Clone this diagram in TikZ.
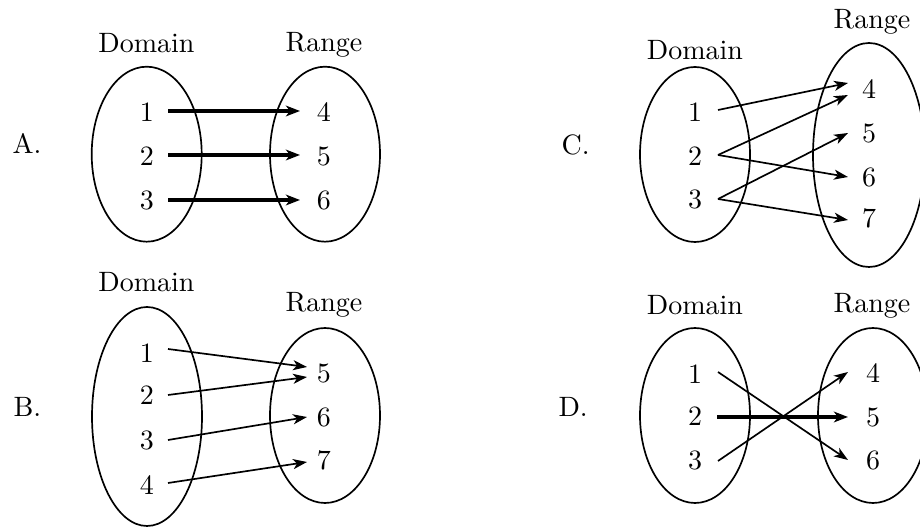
\documentclass[tikz,border=0pt]{standalone}
\usetikzlibrary{calc,arrows.meta}
\tikzset{
  num/.style={inner sep=0pt},
  lbl/.style={anchor=base,inner sep=0pt},
  letter/.style={anchor=base west,inner sep=0pt},
  set/.style={line width=0.6pt},
  thinarr/.style={line width=0.6pt,-{Stealth[length=5pt,width=3.6pt,inset=1.4pt]}},
  thickarr/.style={line width=1.1pt,-{Stealth[length=5pt,width=3.8pt,inset=1.4pt]}}
}
\begin{document}
\begin{tikzpicture}[x=0.357pt,y=-0.357pt]
\path[fill=white,use as bounding box] (0,0) rectangle (920,527);

% ---------------- A ----------------
\node[letter] (LA) at (12,154) {A.};
\node[lbl] (dA) at (146.5,53) {Domain};
\node[lbl] (rA) at (324,52) {Range};
\draw[set] (146.7,154.2) ellipse [x radius=55, y radius=87.5];
\draw[set] (325,154.2) ellipse [x radius=55, y radius=87.5];
\node[num] (A1) at (147,112) {1};
\node[num] (A2) at (147,156) {2};
\node[num] (A3) at (147,200) {3};
\node[num] (A4) at (324,112) {4};
\node[num] (A5) at (324,156) {5};
\node[num] (A6) at (324,200) {6};
\draw[thickarr] ($(A1)+(21,-1)$) -- ($(A4)+(-24,-1)$);
\draw[thickarr] ($(A2)+(21,-1)$) -- ($(A5)+(-24,-1)$);
\draw[thickarr] ($(A3)+(21,0)$) -- ($(A6)+(-24,0)$);

% ---------------- B ----------------
\node[letter] (LB) at (13,417) {B.};
\node[lbl] (dB) at (146.5,292) {Domain};
\node[lbl] (rB) at (324,312) {Range};
\draw[set] (147,416.5) ellipse [x radius=55, y radius=109.5];
\draw[set] (325,415.5) ellipse [x radius=55, y radius=87.5];
\node[num] (B1) at (147,353) {1};
\node[num] (B2) at (147,395) {2};
\node[num] (B3) at (147,440) {3};
\node[num] (B4) at (147,485) {4};
\node[num] (B5) at (324,373) {5};
\node[num] (B6) at (324,417) {6};
\node[num] (B7) at (324,460) {7};
\draw[thinarr] ($(B1)+(21,-4)$) -- ($(B5)+(-17,-6)$);
\draw[thinarr] ($(B2)+(21,0)$) -- ($(B5)+(-17,4)$);
\draw[thinarr] ($(B3)+(21,0)$) -- ($(B6)+(-17,0)$);
\draw[thinarr] ($(B4)+(21,-2)$) -- ($(B7)+(-17,2)$);

% ---------------- C ----------------
\node[letter] (LC) at (561,155) {C.};
\node[lbl] (dC) at (695,60) {Domain};
\node[lbl] (rC) at (872,29) {Range};
\draw[set] (695,154.5) ellipse [x radius=55, y radius=87.5];
\draw[set] (869,155) ellipse [x radius=56, y radius=112];
\node[num] (C1) at (695,112) {1};
\node[num] (C2) at (695,156) {2};
\node[num] (C3) at (695,199) {3};
\node[num] (C4) at (869,89) {4};
\node[num] (C5) at (869,133) {5};
\node[num] (C6) at (869,177) {6};
\node[num] (C7) at (869,218) {7};
\draw[thinarr] ($(C1)+(23,-2)$) -- ($(C4)+(-21,-6)$);
\draw[thinarr] ($(C2)+(23,-1)$) -- ($(C4)+(-21,6)$);
\draw[thinarr] ($(C2)+(23,-1)$) -- ($(C6)+(-21,0)$);
\draw[thinarr] ($(C3)+(23,0)$) -- ($(C5)+(-21,0)$);
\draw[thinarr] ($(C3)+(23,0)$) -- ($(C7)+(-21,2)$);

% ---------------- D ----------------
\node[letter] (LD) at (558,417) {D.};
\node[lbl] (dD) at (695,315) {Domain};
\node[lbl] (rD) at (872,313) {Range};
\draw[set] (695,415.5) ellipse [x radius=55, y radius=87.5];
\draw[set] (873,415.5) ellipse [x radius=55, y radius=87.5];
\node[num] (D1) at (695,374) {1};
\node[num] (D2) at (695,416) {2};
\node[num] (D3) at (695,460) {3};
\node[num] (D4) at (873,373) {4};
\node[num] (D5) at (873,417) {5};
\node[num] (D6) at (873,460) {6};
\draw[thinarr] ($(D1)+(23,-2)$) -- ($(D6)+(-25,0)$);
\draw[thickarr] ($(D2)+(22,1)$) -- ($(D5)+(-25,0)$);
\draw[thinarr] ($(D3)+(23,1)$) -- ($(D4)+(-25,-1)$);
\end{tikzpicture}
\end{document}
